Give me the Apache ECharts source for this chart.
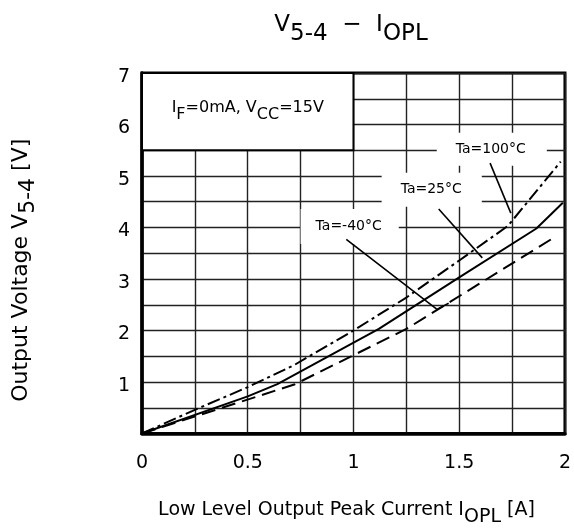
<!DOCTYPE html>
<html><head><meta charset="utf-8">
<script src="https://cdn.jsdelivr.net/npm/echarts@6/dist/echarts.min.js"></script>
<style>html,body{margin:0;padding:0;background:#fff}#c{width:574px;height:532px}</style>
</head><body><div id="c"></div>
<script>
// ---- data ----
const xTickLabels = ['0', '0.5', '1', '1.5', '2'];
const yTickLabels = ['', '1', '2', '3', '4', '5', '6', '7'];

const ta100X = [0, 0.25, 0.5, 0.72, 1.0, 1.25, 1.5, 1.73, 1.98];
const ta100Y = [0, 0.46, 0.9, 1.33, 2.0, 2.64, 3.36, 4.03, 5.28];

const ta25X = [0, 0.5, 0.64, 1.12, 1.5, 1.865, 1.99];
const ta25Y = [0, 0.72, 0.96, 2.03, 3.03, 3.98, 4.48];

const taM40X = [0, 0.72, 1.25, 1.95];
const taM40Y = [0, 0.95, 2.03, 3.81];

const curveNames = ['Ta=100°C', 'Ta=25°C', 'Ta=-40°C'];
const labelX = [1.654, 1.370, 0.982];
const labelY = [5.52, 4.735, 4.02];

const leader100X = [1.646, 1.744];
const leader100Y = [5.25, 4.28];
const leader25X = [1.403, 1.609];
const leader25Y = [4.36, 3.41];
const leaderM40X = [0.966, 1.395, 1.45];
const leaderM40Y = [3.77, 2.41, 2.53];

const condBoxX = [0, 1];
const condBoxY = [5.5, 7];

// ---- chart ----
const FONT = 'DejaVu Sans';
const pts = (xs, ys) => xs.map((x, i) => [x, ys[i]]);
const chart = echarts.init(document.getElementById('c'), null, {renderer: 'canvas'});

const subRich = (size, shift) => ({
  m: {fontSize: size, fontFamily: FONT, fontWeight: 'normal', color: '#000', lineHeight: size + 4, padding: [0, 0, shift, 0]},
  s: {fontSize: size, fontFamily: FONT, fontWeight: 'normal', color: '#000', lineHeight: size + 4, padding: [shift, 0, 0, 0]}
});

const labelPadding = [
  [15, 21, 4, 19],
  [16, 20, 4, 19],
  [16, 17, 5, 15]
];

const option = {
  animation: false,
  backgroundColor: '#fff',
  title: {
    text: '{m|V}{s|5-4}{m|  −  I}{s|OPL}',
    left: 346, top: 11, textAlign: 'center',
    textStyle: {fontWeight: 'normal', rich: subRich(23, 9)}
  },
  grid: {left: 142, right: 7, top: 73, bottom: 97.5, show: true, borderColor: '#000', borderWidth: 3, backgroundColor: 'transparent'},
  xAxis: {
    type: 'value', min: 0, max: 2, interval: 0.5,
    axisLine: {show: true, lineStyle: {color: '#000', width: 3.5}},
    axisTick: {show: false},
    splitLine: {show: true, lineStyle: {color: '#222', width: 1.4}},
    minorTick: {show: false, splitNumber: 2},
    minorSplitLine: {show: true, lineStyle: {color: '#222', width: 1.4}},
    axisLabel: {
      margin: 20, fontSize: 19, fontFamily: FONT, color: '#000',
      formatter: v => xTickLabels[Math.round(v / 0.5)]
    },
    name: '{m|Low Level Output Peak Current I}{s|OPL}{m| [A]}',
    nameLocation: 'middle', nameGap: 69,
    nameTextStyle: {rich: subRich(19, 7), padding: [0, 14, 0, 0]}
  },
  yAxis: {
    type: 'value', min: 0, max: 7, interval: 1,
    axisLine: {show: true, lineStyle: {color: '#000', width: 3.5}},
    axisTick: {show: false},
    splitLine: {show: true, lineStyle: {color: '#222', width: 1.4}},
    minorTick: {show: false, splitNumber: 2},
    minorSplitLine: {show: true, lineStyle: {color: '#222', width: 1.4}},
    axisLabel: {
      margin: 12, color: '#000',
      formatter: v => '{t|' + yTickLabels[Math.round(v)] + '}',
      rich: {t: {fontSize: 19, fontFamily: FONT, color: '#000', lineHeight: 22, padding: [8, 0, 0, 0]}}
    },
    name: '{m|Output Voltage V}{s|5-4}{m| [V]}',
    nameLocation: 'middle', nameGap: 104, nameRotate: 90,
    nameTextStyle: {rich: subRich(22, 7), padding: [0, 34, 0, 0]}
  },
  series: [
    {
      type: 'line', name: curveNames[0], data: pts(ta100X, ta100Y), symbol: 'none', z: 6,
      lineStyle: {color: '#000', width: 2, type: [13, 4, 3, 4]},
      markArea: {
        silent: true, z: 2,
        itemStyle: {color: '#fff', borderColor: '#000', borderWidth: 2},
        label: {
          show: true, position: 'inside',
          formatter: '{m|I}{s|F}{m|=0mA, V}{s|CC}{m|=15V}',
          rich: subRich(16, 7)
        },
        data: [[{coord: [condBoxX[0], condBoxY[1]]}, {coord: [condBoxX[1], condBoxY[0]]}]]
      }
    },
    {type: 'line', name: curveNames[1], data: pts(ta25X, ta25Y), symbol: 'none', z: 6,
      lineStyle: {color: '#000', width: 2}},
    {type: 'line', name: curveNames[2], data: pts(taM40X, taM40Y), symbol: 'none', z: 6,
      lineStyle: {color: '#000', width: 2, type: [14, 7]}},
    {
      type: 'scatter', z: 3, symbolSize: 0, silent: true,
      itemStyle: {opacity: 1},
      data: curveNames.map((n, i) => ({
        name: n, value: [labelX[i], labelY[i]],
        label: {padding: labelPadding[i]}
      })),
      label: {
        show: true, position: 'inside', formatter: p => p.name,
        fontSize: 14, fontFamily: FONT, color: '#000', backgroundColor: '#fff', opacity: 1
      }
    },
    {type: 'line', data: pts(leader100X, leader100Y), symbol: 'none', z: 5, silent: true,
      lineStyle: {color: '#000', width: 1.6}},
    {type: 'line', data: pts(leader25X, leader25Y), symbol: 'none', z: 5, silent: true,
      lineStyle: {color: '#000', width: 1.6}},
    {type: 'line', data: pts(leaderM40X, leaderM40Y), symbol: 'none', z: 5, silent: true,
      lineStyle: {color: '#000', width: 1.6}}
  ]
};
chart.setOption(option);
</script>
</body></html>
